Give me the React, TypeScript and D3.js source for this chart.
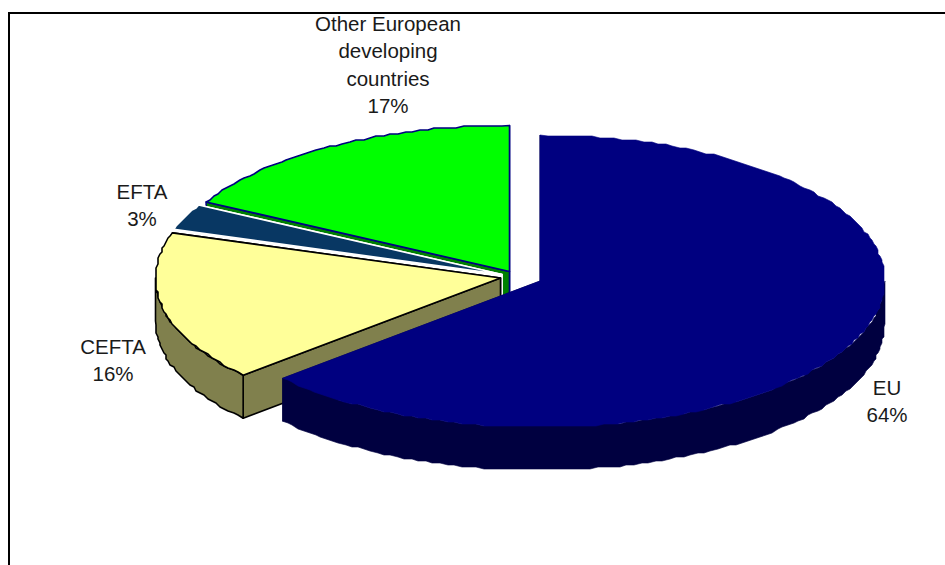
import React from "react";
import * as d3 from "d3";

const categories = ["EU", "CEFTA", "EFTA", "Other European developing countries"];
const values = [63.4, 16.6, 2.9, 17.1];
const tickLabels = [["EU", "64%"], ["CEFTA", "16%"], ["EFTA", "3%"], ["Other European", "developing", "countries", "17%"]];

const topFills = ["#000080", "#ffff99", "#083763", "#00ff00"];
const sideFills = ["#000040", "#80804d", "#ffffff", "#008000"];
const strokes = ["#000080", "#000000", "#ffffff", "#000080"];
const sideStrokes = ["#000040", "#000000", "#ffffff", "#000080"];
const strokeWidths = [0.6, 1.6, 1.6, 1.6];
const centers: [number, number][] = [[540, 281], [500.5, 278], [502, 274.5], [509.5, 271.5]];
const labelPos: [number, number][] = [[887, 395], [113, 354], [142, 199], [388, 31]];

const RX = 345, RY = 146, DEPTH = 43, LINE = 27.4, GRID = 2;
const pie = d3.pie<number>().sort(null);
const arcs = pie(values);
const line = d3.line<[number, number]>().curve(d3.curveLinear);

function rim(c: [number, number], a0: number, a1: number, dy = 0): [number, number][] {
  const n = Math.max(1, Math.ceil(Math.abs(a1 - a0) / 0.022));
  const pts: [number, number][] = [];
  for (const t of d3.range(n + 1)) {
    const [x, y] = d3.pointRadial(a0 + ((a1 - a0) * t) / n, 1);
    const endPoint = t === 0 || t === n;
    const px = c[0] + x * RX;
    const py = c[1] + y * RY;
    pts.push(endPoint ? [px, py + dy] : [Math.round(px / GRID) * GRID, Math.round(py / GRID) * GRID + dy]);
  }
  return pts;
}

function cutFace(c: [number, number], a: number) {
  const [p] = rim(c, a, a);
  return line([c, p, [p[0], p[1] + DEPTH], [c[0], c[1] + DEPTH]])! + "Z";
}

export default function App() {
  // back-to-front painting order
  const order = [3, 2, 1, 0];
  return (
    <svg width={945} height={565} style={{ position: "absolute", left: 0, top: 0, background: "#fff" }}>
      <path d="M9,565V13H945" fill="none" stroke="#000" strokeWidth={2} />
      {order.map((i) => {
        const a = arcs[i];
        const c = centers[i];
        const lo = Math.max(a.startAngle, Math.PI / 2);
        const hi = Math.min(a.endAngle, (3 * Math.PI) / 2);
        const side = { fill: sideFills[i], stroke: sideStrokes[i], strokeWidth: strokeWidths[i], strokeLinejoin: "round" as const };
        return (
          <g key={categories[i]}>
            <path d={cutFace(c, a.endAngle)} {...side} />
            <path d={cutFace(c, a.startAngle)} {...side} />
            {lo < hi && (
              <path d={line([...rim(c, lo, hi), ...rim(c, hi, lo, DEPTH)])! + "Z"} {...side} />
            )}
            <path
              d={line([c, ...rim(c, a.startAngle, a.endAngle)])! + "Z"}
              fill={topFills[i]}
              stroke={strokes[i]}
              strokeWidth={strokeWidths[i]}
              strokeLinejoin="round"
            />
          </g>
        );
      })}
      {tickLabels.map((lines, i) => (
        <text key={i} x={labelPos[i][0]} y={labelPos[i][1]} textAnchor="middle" fontFamily="'Liberation Sans', Arial, sans-serif" fontSize={20.5} fill="#1a1a1a">
          {lines.map((t, j) => (
            <tspan key={j} x={labelPos[i][0]} dy={j === 0 ? 0 : LINE}>{t}</tspan>
          ))}
        </text>
      ))}
    </svg>
  );
}
